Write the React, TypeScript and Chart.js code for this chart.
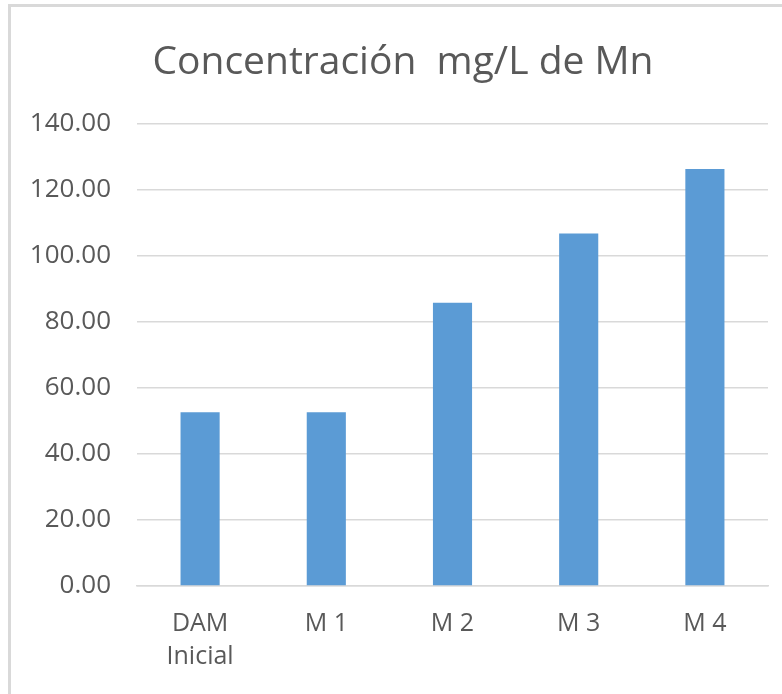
import React, { useEffect, useRef } from "react";
import { Chart, registerables } from "chart.js";

Chart.register(...registerables);

const categories: (string | string[])[] = [["DAM", "Inicial"], "M 1", "M 2", "M 3", "M 4"];
const mnValues: number[] = [52.6, 52.6, 85.8, 106.8, 126.3];
const yTicks: number[] = [0, 20, 40, 60, 80, 100, 120, 140];

const TITLE = "Concentración  mg/L de Mn";
const FONT = "'Open Sans', 'Noto Sans', sans-serif";

const frame = {
  id: "frame",
  beforeDraw(chart: any) {
    const { ctx, width, height } = chart;
    ctx.save();
    ctx.fillStyle = "#ffffff";
    ctx.fillRect(0, 0, width, height);
    ctx.fillStyle = "#d9d9d9";
    ctx.fillRect(8, 4, 3, height - 4);
    ctx.fillRect(8, 4, width - 8, 3);
    ctx.restore();
  },
};

const shiftTitle = {
  id: "shiftTitle",
  afterLayout(chart: any) {
    const tb = chart.titleBlock;
    if (tb) {
      tb.left = 38;
      tb.right = chart.chartArea.right;
    }
  },
};

export default function App() {
  const ref = useRef<HTMLCanvasElement | null>(null);
  useEffect(() => {
    document.body.style.margin = "0";
    const chart = new Chart(ref.current as HTMLCanvasElement, {
      type: "bar",
      data: {
        labels: categories,
        datasets: [
          {
            label: "Mn",
            data: mnValues,
            backgroundColor: "#5b9bd5",
            barPercentage: 0.31,
            categoryPercentage: 1,
          },
        ],
      },
      options: {
        responsive: false,
        animation: false,
        layout: { padding: { left: 0, right: 14, top: 0, bottom: 0 } },
        plugins: {
          legend: { display: false },
          tooltip: { enabled: false },
          title: {
            display: true,
            text: TITLE,
            color: "#595959",
            font: { family: FONT, size: 39, weight: "normal", lineHeight: 1.2 },
            padding: { top: 39, bottom: 38 },
          },
        },
        scales: {
          x: {
            grid: { display: false, drawTicks: false },
            border: { color: "#d9d9d9", width: 1.5 },
            ticks: {
              color: "#595959",
              font: { family: FONT, size: 25, lineHeight: 1.32 },
              padding: 21,
              maxRotation: 0,
            },
          },
          y: {
            min: 0,
            max: 140,
            afterBuildTicks: (scale: any) => {
              scale.ticks = yTicks.map((v) => ({ value: v }));
            },
            afterFit: (scale: any) => {
              scale.width = 137;
            },
            grid: { color: "#d9d9d9", lineWidth: 1.5, drawTicks: false },
            border: { display: false },
            ticks: {
              color: "#595959",
              font: { family: FONT, size: 26 },
              padding: 26,
              callback: (v: any) => Number(v).toFixed(2),
            },
          },
        },
      },
      plugins: [frame, shiftTitle],
    });
    return () => chart.destroy();
  }, []);
  return (
    <div style={{ position: "absolute", left: 0, top: 0, width: 782, height: 694 }}>
      <canvas ref={ref} width={782} height={694} />
    </div>
  );
}
